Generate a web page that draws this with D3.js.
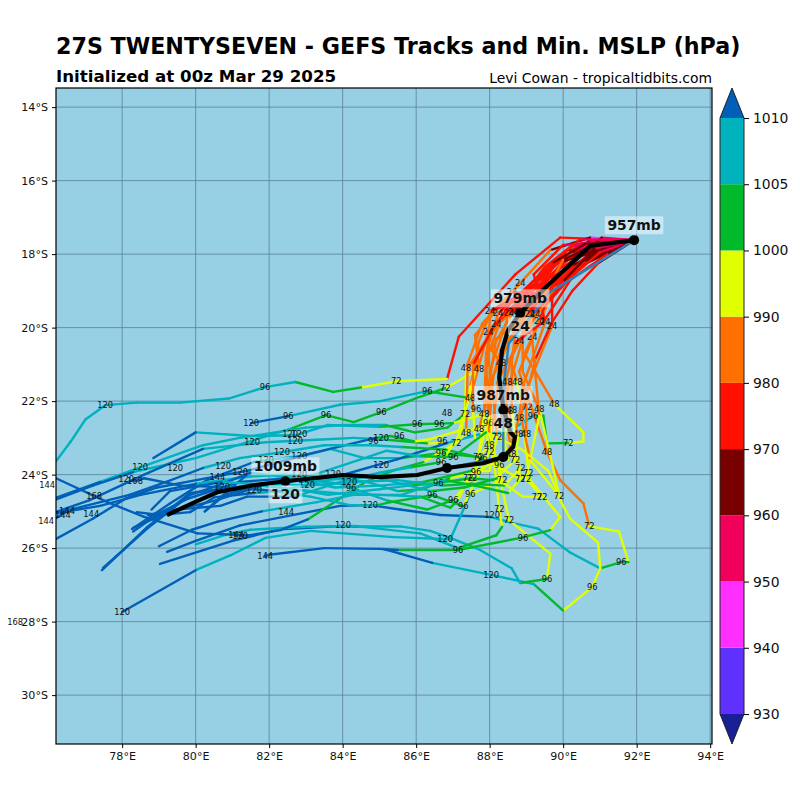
<!doctype html>
<html>
<head>
<title>27S TWENTYSEVEN - GEFS Tracks and Min. MSLP (hPa)</title>
<style type="text/css">
body { margin: 0; background: #fff; }
text { font-family: "DejaVu Sans", sans-serif; }
</style>
<script src="https://cdnjs.cloudflare.com/ajax/libs/d3/7.8.5/d3.min.js"></script>
</head>
<body>
<script type="text/javascript">
var titleText = "27S TWENTYSEVEN - GEFS Tracks and Min. MSLP (hPa)";
var subTitle = "Initialized at 00z Mar 29 2025";
var credit = "Levi Cowan - tropicaltidbits.com";

var lonTicks = [78, 80, 82, 84, 86, 88, 90, 92, 94];
var latTicks = [-14, -16, -18, -20, -22, -24, -26, -28, -30];

// colour bar: levels and the colour of each bin, first and last are the extensions
var mslpLevels = [930, 940, 950, 960, 970, 980, 990, 1000, 1005, 1010];
var mslpColors = ["#1a1f96", "#6030ff", "#ff30ff", "#f0005a", "#780000", "#ff1000",
                  "#ff7000", "#e0ff00", "#00ba2c", "#00b2be", "#0060b8"];

// member tracks, each point is lon, lat, mslp
var start = [91.93, -17.62, 957];
var m01 = [start,[89.92,-17.55,972],[88.70,-18.55,975],[87.16,-20.25,976],[86.84,-21.40,978],[85.46,-21.46,993],[84.50,-21.63,995],[83.74,-21.75,1002],[82.71,-21.48,1002],[81.89,-21.62,1006],[80.90,-21.93,1006],[79.58,-22.04,1006],[78.40,-22.04,1007],[77.54,-22.11,1007],[77.00,-22.50,1008],[76.60,-23.10,1008],[76.00,-23.90,1008]];
var m02 = [start,[90.73,-17.55,948],[89.65,-17.89,968],[88.83,-18.79,982],[87.80,-19.88,985],[87.36,-21.10,986],[87.33,-22.35,992],[86.85,-22.72,1000],[85.96,-22.85,1002],[85.15,-22.65,1003],[84.00,-22.65,1005],[83.00,-22.72,1005],[81.20,-23.00,1006],[80.20,-23.20,1006],[78.49,-23.80,1007],[77.40,-24.20,1008],[76.00,-24.70,1011]];
var m03 = [start,[90.46,-18.25,960],[89.37,-19.10,972],[88.61,-19.03,978],[87.60,-20.20,982],[87.71,-21.13,985],[86.79,-21.65,992],[86.00,-21.92,1002],[85.05,-22.30,1002],[84.30,-22.57,1002],[83.55,-22.38,1002],[82.60,-22.75,1003],[80.94,-23.26,1006],[80.00,-23.55,1006],[78.30,-23.93,1008],[77.20,-24.30,1011],[76.00,-24.75,1011]];
var m04 = [start,[90.73,-18.00,958],[89.37,-18.98,975],[88.53,-19.61,980],[87.96,-20.12,984],[87.47,-21.92,987],[86.30,-21.73,1002],[85.02,-22.00,1005],[83.93,-22.10,1005],[82.52,-22.41,1006],[81.51,-22.60,1011]];
var m05 = [start,[90.90,-17.80,958],[89.90,-18.40,972],[89.10,-19.63,978],[88.18,-20.30,984],[87.85,-22.35,988],[87.00,-22.60,993],[86.03,-22.63,1000],[85.00,-22.70,1004],[83.60,-22.65,1005],[82.71,-22.93,1006],[81.51,-22.95,1006],[80.00,-22.85,1007],[78.85,-23.55,1011]];
var m06 = [start,[90.20,-17.95,965],[89.20,-18.85,975],[88.40,-19.65,978],[87.70,-20.70,984],[87.47,-21.60,986],[87.09,-23.14,993],[86.30,-23.15,998],[85.20,-23.05,1003],[84.30,-23.00,1005],[83.30,-23.05,1006],[81.90,-23.12,1006],[80.20,-23.30,1008],[78.60,-24.00,1011],[77.10,-24.70,1011],[76.10,-25.05,1011]];
var m07 = [start,[90.80,-17.95,962],[89.50,-19.05,976],[88.64,-19.58,978],[88.04,-20.60,982],[88.31,-20.97,985],[88.00,-23.20,988],[87.69,-23.52,995],[86.68,-23.41,1001],[85.60,-23.55,1004],[84.60,-23.55,1005],[83.66,-23.30,1006],[82.82,-23.50,1006],[81.60,-23.65,1008],[80.31,-24.15,1011],[79.31,-24.78,1011],[78.27,-25.48,1011]];
var m08 = [start,[90.50,-18.30,968],[89.60,-19.30,975],[89.16,-20.26,982],[88.95,-20.70,984],[89.76,-22.08,986],[90.55,-22.85,993],[90.55,-23.10,993],[90.14,-23.14,995],[89.56,-23.15,1002],[89.46,-22.40,1002],[89.18,-22.41,1002],[88.56,-22.80,1005],[87.74,-22.90,1005],[86.84,-23.14,1005],[85.50,-23.58,1011],[84.00,-24.01,1011],[82.84,-24.20,1011]];
var m09 = [start,[90.30,-18.40,968],[89.50,-19.40,975],[89.35,-19.82,976],[88.80,-21.20,982],[89.56,-23.39,986],[89.92,-24.15,986],[90.55,-24.78,986],[90.71,-25.40,988],[91.52,-25.55,993],[91.78,-26.38,995],[91.58,-26.38,1002],[91.01,-26.55,1002],[90.19,-26.12,1005],[90.00,-25.98,1005],[89.32,-25.47,1005],[88.56,-25.30,1006],[88.01,-25.15,1006],[86.65,-25.10,1011],[85.56,-24.95,1011],[84.75,-24.83,1011],[83.93,-24.85,1011],[81.21,-25.38,1011],[80.00,-25.80,1011],[79.22,-26.10,1011]];
var m10 = [start,[90.40,-18.05,965],[89.45,-19.10,976],[88.90,-19.65,980],[88.90,-21.20,984],[89.35,-22.22,987],[89.70,-23.70,990],[89.92,-24.70,992],[90.19,-25.20,993],[90.95,-25.85,994],[91.01,-26.55,995],[90.79,-27.06,996],[90.00,-27.70,997],[89.20,-26.98,1002],[88.04,-26.73,1005],[86.44,-26.40,1005],[85.56,-26.15,1011],[85.10,-26.02,1011]];
var m11 = [start,[90.60,-18.20,962],[89.60,-19.05,975],[89.24,-19.63,977],[88.40,-21.10,982],[88.48,-22.48,986],[88.26,-24.00,990],[88.53,-25.24,993],[89.65,-26.15,995],[89.56,-26.84,997],[88.83,-26.95,1002],[88.60,-26.55,1005],[87.74,-26.05,1005],[86.93,-25.72,1005],[86.38,-25.53,1005],[85.56,-25.41,1005],[84.40,-25.41,1006],[83.93,-25.40,1011],[82.30,-25.49,1011],[81.00,-25.80,1011],[79.03,-26.43,1011]];
var m12 = [start,[90.10,-18.10,965],[89.30,-19.05,975],[88.75,-19.60,978],[88.60,-21.00,984],[88.75,-21.48,986],[89.10,-24.15,990],[89.92,-25.15,992],[89.65,-25.51,994],[88.85,-25.72,1002],[87.14,-26.05,1002],[85.50,-26.05,1002],[85.00,-26.02,1011],[83.50,-26.00,1011],[82.00,-26.18,1011],[81.89,-26.22,1011]];
var m13 = [start,[90.60,-17.75,955],[89.50,-18.70,972],[88.90,-19.62,978],[88.10,-21.30,984],[88.00,-22.50,988],[88.26,-24.94,993],[88.34,-25.42,995],[88.18,-25.65,1002],[87.14,-26.00,1002],[86.11,-25.60,1005],[84.35,-25.40,1006],[83.00,-25.42,1006],[81.50,-25.50,1006],[80.94,-25.60,1008],[80.00,-25.90,1008]];
var m14 = [start,[90.10,-17.90,960],[89.30,-18.90,974],[88.35,-19.65,978],[87.90,-20.90,984],[87.99,-22.90,989],[88.34,-24.15,992],[87.47,-24.53,997],[86.93,-25.76,1005],[85.40,-25.70,1006],[83.12,-25.53,1006],[81.90,-25.72,1006],[80.94,-26.20,1008],[80.00,-26.60,1008],[78.00,-27.74,1011]];
var m15 = [start,[90.00,-18.20,962],[89.25,-19.10,975],[88.18,-19.90,978],[87.40,-21.10,984],[87.36,-22.87,988],[87.09,-23.14,993],[86.20,-23.66,996],[85.40,-23.88,1002],[84.62,-24.20,1002],[83.05,-25.22,1002],[82.30,-25.51,1011],[81.48,-25.65,1011],[80.05,-25.60,1011],[78.60,-25.15,1011],[77.60,-24.75,1011],[76.20,-24.10,1011],[75.80,-24.00,1011]];
var m16 = [start,[90.70,-17.65,950],[89.80,-18.20,968],[89.05,-19.63,977],[88.30,-20.60,984],[87.71,-22.76,988],[87.20,-22.80,992],[86.40,-23.03,996],[85.95,-23.10,997],[85.30,-22.95,1000],[84.90,-23.00,1002],[83.66,-23.30,1011],[82.84,-23.50,1011],[81.48,-23.88,1011],[80.45,-24.07,1011],[78.95,-24.35,1011],[78.10,-24.65,1011],[77.20,-25.20,1011],[76.20,-25.75,1011]];
var m17 = [start,[90.50,-17.70,958],[89.40,-18.60,972],[88.60,-19.60,977],[87.96,-20.12,983],[87.85,-22.40,988],[87.63,-23.93,994],[86.90,-24.10,999],[86.60,-24.23,1002],[86.15,-24.40,1002],[85.50,-24.45,1002],[84.65,-24.20,1005],[84.00,-24.10,1006],[82.40,-24.00,1006],[81.48,-24.05,1006],[80.00,-24.25,1008],[78.50,-24.55,1011],[77.40,-24.85,1011],[76.50,-25.00,1011],[76.00,-25.30,1011]];
var m18 = [start,[90.35,-17.85,958],[89.45,-18.50,972],[88.23,-19.61,978],[87.90,-20.70,984],[87.85,-22.35,988],[87.99,-23.39,992],[87.28,-24.86,996],[86.44,-24.56,1002],[85.30,-24.75,1002],[84.95,-24.83,1002],[84.20,-24.83,1005],[83.12,-24.60,1006],[81.21,-24.33,1006],[79.85,-24.50,1011],[78.68,-25.43,1011],[78.03,-26.05,1011],[77.48,-26.54,1011]];
var m19 = [start,[90.20,-17.80,955],[89.50,-18.35,970],[88.53,-19.61,978],[88.00,-21.20,984],[88.00,-22.40,988],[87.52,-24.10,994],[87.01,-24.69,998],[86.30,-24.95,1002],[85.20,-24.70,1004],[83.93,-24.25,1006],[81.48,-23.95,1006],[80.60,-24.30,1010],[79.85,-24.55,1011],[78.68,-25.47,1011],[78.00,-26.08,1011],[77.45,-26.60,1011]];
var m20 = [start,[90.00,-17.75,958],[89.20,-18.55,974],[89.51,-19.85,976],[88.90,-21.60,984],[88.80,-22.46,986],[88.50,-23.40,989],[87.41,-24.10,994],[87.14,-24.70,998],[86.93,-24.90,1002],[86.11,-24.60,1004],[85.00,-24.55,1005],[84.00,-24.52,1006],[82.80,-24.42,1006],[81.80,-24.30,1008],[80.55,-24.70,1011],[79.30,-25.00,1011],[78.30,-25.45,1011]];
var m21 = [start,[90.25,-18.30,965],[89.70,-19.20,975],[89.70,-19.96,977],[89.00,-21.70,984],[88.99,-22.90,986],[89.05,-23.96,990],[88.83,-24.12,993],[87.80,-23.55,998],[86.80,-23.32,1002],[85.60,-23.25,1004],[84.80,-23.20,1005],[83.50,-23.20,1005],[82.35,-23.39,1006],[81.20,-23.55,1006],[80.20,-23.82,1008],[79.20,-24.20,1011],[78.20,-24.55,1011],[77.00,-24.85,1011],[76.00,-25.10,1011]];
var m22 = [start,[90.60,-18.10,960],[89.80,-18.90,972],[88.80,-20.37,980],[88.20,-21.50,984],[88.78,-22.90,987],[88.69,-23.61,990],[88.10,-24.15,995],[87.47,-24.10,1000],[86.60,-24.23,1002],[85.80,-24.30,1004],[85.00,-24.40,1005],[83.60,-24.55,1006],[82.84,-24.42,1006],[81.60,-24.50,1008],[80.50,-24.62,1011],[79.85,-25.02,1011],[79.00,-25.10,1011],[78.40,-25.02,1011]];
var m23 = [start,[90.85,-17.85,955],[90.00,-18.75,968],[88.04,-19.55,978],[87.70,-20.40,983],[87.60,-21.20,986],[87.20,-22.90,990],[86.68,-23.66,998],[85.85,-23.80,1003],[85.00,-23.95,1005],[83.93,-24.20,1006],[82.70,-24.60,1006],[81.40,-24.60,1010],[80.67,-24.85,1011],[79.50,-24.95,1011],[78.70,-25.10,1011]];
var m24 = [start,[90.95,-17.70,952],[90.00,-18.15,966],[88.96,-20.12,982],[88.40,-22.00,986],[88.59,-23.44,988],[88.83,-23.82,990],[88.40,-24.30,994],[87.50,-24.25,1000],[86.70,-24.30,1002],[85.50,-24.15,1005],[84.40,-24.20,1005],[83.00,-24.30,1006],[81.80,-24.25,1006],[80.80,-24.55,1011],[80.25,-25.00,1011],[80.70,-24.60,1011],[81.40,-24.00,1011]];
var m25 = [start,[91.00,-17.95,956],[90.30,-18.55,970],[89.20,-19.60,978],[88.60,-20.80,984],[88.60,-22.24,986],[88.83,-24.12,990],[88.50,-24.50,995],[87.60,-24.30,1000],[86.80,-24.15,1003],[85.60,-24.55,1005],[84.30,-24.55,1006],[83.30,-24.75,1006],[81.80,-25.00,1006],[80.60,-25.28,1011],[79.90,-25.50,1011],[79.00,-25.95,1011]];
var m26 = [start,[91.05,-17.55,950],[90.10,-18.40,966],[88.01,-19.55,979],[87.96,-20.80,983],[88.10,-21.90,986],[88.20,-22.98,989],[87.99,-23.90,993],[87.50,-23.90,999],[86.20,-24.20,1003],[85.00,-24.30,1005],[83.80,-24.35,1006],[82.50,-24.10,1007],[81.20,-24.20,1011],[79.80,-24.65,1011],[79.00,-25.05,1011],[78.30,-25.55,1011]];
var m27 = [start,[90.45,-17.60,953],[89.60,-18.35,970],[89.10,-19.62,978],[89.20,-20.80,982],[89.35,-22.40,985],[88.99,-24.12,990],[89.43,-24.61,992],[88.90,-24.60,993],[88.20,-24.10,998],[87.30,-24.35,1002],[86.40,-24.45,1004],[84.80,-24.05,1005],[83.50,-24.15,1006],[82.30,-24.45,1008],[80.70,-24.34,1011],[79.60,-24.30,1011],[78.60,-24.10,1011],[78.35,-24.18,1011]];
var m28 = [start,[90.95,-18.25,964],[90.25,-19.00,972],[89.70,-19.85,976],[89.25,-20.85,978],[88.85,-22.40,985],[89.10,-23.60,988],[89.90,-24.59,990],[89.60,-23.90,990],[88.85,-23.30,992],[87.90,-22.85,996],[87.01,-23.52,1001],[86.10,-23.50,1003],[85.20,-23.35,1005],[84.00,-23.75,1005],[82.30,-24.30,1006],[80.70,-24.20,1009],[79.30,-24.45,1011],[78.80,-24.95,1011]];
var m29 = [start,[90.60,-17.72,965],[89.70,-18.25,965],[88.60,-19.30,974],[88.10,-20.00,976],[87.55,-21.00,978],[87.55,-22.30,984],[87.60,-23.00,992]];
var m30 = [start,[91.20,-18.00,968],[90.20,-18.70,974],[89.46,-19.85,976],[88.70,-20.40,976],[88.45,-21.40,980],[88.30,-22.60,986],[88.50,-23.60,993]];
var members = [m01, m02, m03, m04, m05, m06, m07, m08, m09, m10, m11, m12, m13, m14, m15,
               m16, m17, m18, m19, m20, m21, m22, m23, m24, m25, m26, m27, m28, m29, m30];

// the thin steel blue track, lon and lat
var controlLon = [91.93, 89.65, 88.52, 88.40, 88.37, 88.37, 86.84];
var controlLat = [-17.62, -19.03, -20.43, -21.43, -22.87, -23.52, -23.82];

// ensemble mean track
var meanLon = [91.93, 90.73, 89.59, 88.83, 88.50, 88.34, 88.26, 88.37, 88.56, 88.69, 88.64, 88.37, 87.82, 86.84, 86.03, 85.02, 84.01, 82.44, 81.56, 80.59, 80.04, 79.22];
var meanLat = [-17.62, -17.78, -18.84, -19.61, -20.07, -20.61, -21.35, -22.19, -22.84, -22.98, -23.25, -23.52, -23.69, -23.82, -24.01, -24.07, -24.01, -24.18, -24.29, -24.48, -24.72, -25.10];

// mean track points with a big label: lon, lat, top text, bottom text
var dotLon = [91.93, 88.83, 88.37, 88.37, 86.84, 82.44];
var dotLat = [-17.62, -19.61, -22.24, -23.52, -23.82, -24.18];
var bigTop = ["957mb", "979mb", "987mb", "", "", "1009mb"];
var bigBottom = ["", "24", "48", "", "", "120"];

// forecast hour labels on the members, lon and lat
var hours24 = [[88.83,-18.79],[88.61,-19.03],[88.01,-19.55],[88.23,-19.61],[88.53,-19.61],[88.64,-19.58],[89.10,-19.63],[89.24,-19.63],[88.18,-19.90],[87.96,-20.12],[89.35,-19.82],[89.51,-19.85],[89.70,-19.96],[88.80,-20.37],[89.16,-20.26]];
var hours48 = [[87.36,-21.10],[87.71,-21.13],[88.31,-20.97],[88.48,-21.48],[88.75,-21.48],[87.47,-21.92],[89.76,-22.08],[86.84,-22.33],[87.85,-22.35],[88.61,-22.24],[88.50,-22.27],[88.80,-22.46],[89.35,-22.22],[87.36,-22.87],[87.71,-22.76],[87.99,-23.20],[88.78,-22.90],[88.99,-22.90],[89.56,-23.39],[88.59,-23.44]];
var hours72 = [[85.46,-21.46],[86.79,-21.65],[87.33,-22.35],[87.09,-23.14],[88.20,-22.98],[87.99,-23.39],[87.69,-23.52],[88.69,-23.61],[88.83,-23.82],[89.05,-23.96],[88.83,-24.12],[88.99,-24.12],[88.34,-24.15],[87.41,-24.10],[87.52,-24.10],[89.29,-24.61],[89.43,-24.61],[89.89,-24.59],[88.26,-24.94],[88.53,-25.24],[90.71,-25.40],[90.14,-23.14],[89.02,-22.16]];
var hours96 = [[81.89,-21.62],[82.52,-22.41],[83.55,-22.38],[85.05,-22.30],[86.03,-22.63],[86.30,-21.73],[86.63,-22.63],[86.71,-23.09],[86.68,-23.41],[86.68,-23.66],[87.01,-23.52],[87.80,-23.55],[87.63,-22.22],[87.96,-22.60],[89.18,-22.41],[88.26,-23.74],[87.63,-23.93],[86.60,-24.23],[86.44,-24.56],[87.01,-24.69],[87.28,-24.86],[87.47,-24.53],[88.91,-25.73],[87.14,-26.05],[89.56,-26.84],[90.79,-27.06],[91.58,-26.38],[84.83,-23.09],[85.54,-22.95],[84.23,-24.37]];
var hours120 = [[77.54,-22.11],[78.00,-27.74],[81.51,-22.60],[81.54,-23.12],[82.57,-22.90],[82.82,-22.90],[82.71,-23.09],[82.35,-23.39],[82.82,-23.50],[81.92,-23.61],[81.21,-23.93],[81.59,-24.42],[82.82,-23.99],[83.03,-24.29],[83.74,-23.99],[84.18,-24.20],[85.05,-23.74],[85.05,-23.01],[84.75,-24.83],[84.01,-25.37],[86.79,-25.76],[88.04,-26.73],[88.07,-25.10],[81.21,-25.68],[78.49,-23.80],[79.44,-23.82],[78.11,-24.12],[80.75,-23.77],[80.72,-24.34]];
var hours144 = [[80.59,-24.07],[82.46,-25.02],[81.89,-26.22],[81.10,-25.65],[77.16,-25.07],[76.50,-24.99],[76.39,-25.10],[75.96,-24.29],[75.93,-25.25]];
var hours168 = [[77.24,-24.59],[78.35,-24.18],[75.09,-28.01]];
var hourLabels = [[24, hours24], [48, hours48], [72, hours72], [96, hours96], [120, hours120], [144, hours144], [168, hours168]];

var svg = d3.select("body").append("svg")
	.attr("width", 800)
	.attr("height", 800);

var x = d3.scaleLinear().domain([76.2, 94.05]).range([56, 712]);
var y = d3.scaleLinear().domain([-13.48, -31.33]).range([88, 744]);
var pressureColor = d3.scaleThreshold().domain(mslpLevels).range(mslpColors);

svg.append("clipPath").attr("id", "plot-clip").append("rect")
	.attr("x", 56).attr("y", 88).attr("width", 656).attr("height", 656);

// ocean
svg.append("rect")
	.attr("x", 56).attr("y", 88).attr("width", 656).attr("height", 656)
	.attr("fill", "#97cfe5");

// graticule
var grid = svg.append("g");
grid.selectAll(".lon").data(lonTicks).enter().append("line")
	.attr("x1", function(d) { return x(d); }).attr("x2", function(d) { return x(d); })
	.attr("y1", 88).attr("y2", 744);
grid.selectAll(".lat").data(latTicks).enter().append("line")
	.attr("y1", function(d) { return y(d); }).attr("y2", function(d) { return y(d); })
	.attr("x1", 56).attr("x2", 712);
grid.selectAll("line").attr("stroke", "#5a8296").attr("stroke-width", 0.8);

var plot = svg.append("g").attr("clip-path", "url(#plot-clip)");
var line = d3.line()
	.x(function(d) { return x(d[0]); })
	.y(function(d) { return y(d[1]); });

// each segment takes the colour of the pressure at its far end
members.forEach(function(track) {
	plot.append("g").selectAll("path")
		.data(d3.pairs(track))
		.enter().append("path")
		.attr("d", line)
		.attr("fill", "none")
		.attr("stroke-width", 2.4)
		.attr("stroke-linecap", "round")
		.attr("stroke", function(d) { return pressureColor(d[1][2]); });
});

plot.append("path")
	.attr("d", line(d3.zip(controlLon, controlLat)))
	.attr("fill", "none")
	.attr("stroke", "#2f7fb8")
	.attr("stroke-width", 2.4);

// forecast hour labels are not clipped, some sit left of the map
hourLabels.forEach(function(group) {
	svg.append("g").selectAll("text")
		.data(group[1])
		.enter().append("text")
		.attr("x", function(d) { return x(d[0]); })
		.attr("y", function(d) { return y(d[1]); })
		.attr("dy", "0.36em")
		.attr("text-anchor", "middle")
		.attr("font-size", 8.3)
		.attr("fill", "#111")
		.text(group[0]);
});

plot.append("path")
	.attr("d", line(d3.zip(meanLon, meanLat)))
	.attr("fill", "none")
	.attr("stroke", "#000")
	.attr("stroke-width", 4.2)
	.attr("stroke-linejoin", "round");

svg.append("g").selectAll("circle")
	.data(d3.zip(dotLon, dotLat))
	.enter().append("circle")
	.attr("cx", function(d) { return x(d[0]); })
	.attr("cy", function(d) { return y(d[1]); })
	.attr("r", 5)
	.attr("fill", "#000");

// bold labels with a half see through box
function bigLabel(text, lon, lat, dy) {
	if (!text) return;
	var g = svg.append("g");
	var t = g.append("text")
		.attr("x", x(lon))
		.attr("y", y(lat) + dy)
		.attr("dy", "0.36em")
		.attr("text-anchor", "middle")
		.attr("font-size", 13.9)
		.attr("font-weight", "bold")
		.attr("fill", "#111")
		.text(text);
	var b = t.node().getBBox();
	g.insert("rect", "text")
		.attr("x", b.x - 2.5).attr("y", b.y - 1)
		.attr("width", b.width + 5).attr("height", b.height + 2)
		.attr("rx", 1)
		.attr("fill", "#fff")
		.attr("fill-opacity", 0.5);
}
dotLon.forEach(function(lon, i) {
	bigLabel(bigTop[i], lon, dotLat[i], -15);
	bigLabel(bigBottom[i], lon, dotLat[i], 13);
});

// axes
var xAxis = d3.axisBottom(x).tickValues(lonTicks).tickSize(4).tickPadding(4)
	.tickFormat(function(d) { return d + "°E"; });
var yAxis = d3.axisLeft(y).tickValues(latTicks).tickSize(4).tickPadding(4)
	.tickFormat(function(d) { return (-d) + "°S"; });
svg.append("g").attr("transform", "translate(0,744)").call(xAxis);
svg.append("g").attr("transform", "translate(56,0)").call(yAxis);
svg.append("rect")
	.attr("x", 56).attr("y", 88).attr("width", 656).attr("height", 656)
	.attr("fill", "none").attr("stroke", "#000").attr("stroke-width", 1.2);
svg.selectAll(".tick text").attr("font-size", 11.1).attr("font-family", "DejaVu Sans").attr("fill", "#111");
svg.selectAll(".domain").attr("stroke", "none");

// colour bar
var cbar = d3.scalePoint().domain(mslpLevels).range([714, 118]);
var cbarX0 = 720, cbarX1 = 744, cbarTip = 30;
var bars = svg.append("g");
bars.selectAll("rect")
	.data(d3.pairs(mslpLevels))
	.enter().append("rect")
	.attr("x", cbarX0).attr("width", cbarX1 - cbarX0)
	.attr("y", function(d) { return cbar(d[1]); })
	.attr("height", function(d) { return cbar(d[0]) - cbar(d[1]); })
	.attr("fill", function(d) { return pressureColor(d[0]); });
var topY = cbar(1010), bottomY = cbar(930), midX = (cbarX0 + cbarX1) / 2;
bars.append("path")
	.attr("d", d3.line()([[cbarX0, topY], [midX, topY - cbarTip], [cbarX1, topY]]))
	.attr("fill", pressureColor(1011));
bars.append("path")
	.attr("d", d3.line()([[cbarX0, bottomY], [midX, bottomY + cbarTip], [cbarX1, bottomY]]))
	.attr("fill", pressureColor(929));
bars.append("path")
	.attr("d", d3.line()([[cbarX0, topY], [midX, topY - cbarTip], [cbarX1, topY], [cbarX1, bottomY],
		[midX, bottomY + cbarTip], [cbarX0, bottomY]]) + "Z")
	.attr("fill", "none")
	.attr("stroke", "#222")
	.attr("stroke-width", 1);
var cbarAxis = d3.axisRight(cbar).tickSize(5).tickPadding(4);
svg.append("g").attr("transform", "translate(" + cbarX1 + ",0)").call(cbarAxis)
	.call(function(g) { g.select(".domain").remove(); })
	.selectAll("text").attr("font-size", 13.9).attr("font-family", "DejaVu Sans").attr("fill", "#111");

// titles
svg.append("text").attr("x", 56).attr("y", 54)
	.attr("font-size", 22.2).attr("font-weight", "bold").attr("fill", "#000").text(titleText);
svg.append("text").attr("x", 56).attr("y", 82)
	.attr("font-size", 16.7).attr("font-weight", "bold").attr("fill", "#000").text(subTitle);
svg.append("text").attr("x", 712).attr("y", 83)
	.attr("text-anchor", "end").attr("font-size", 13.9).attr("fill", "#000").text(credit);
</script>
</body>
</html>
